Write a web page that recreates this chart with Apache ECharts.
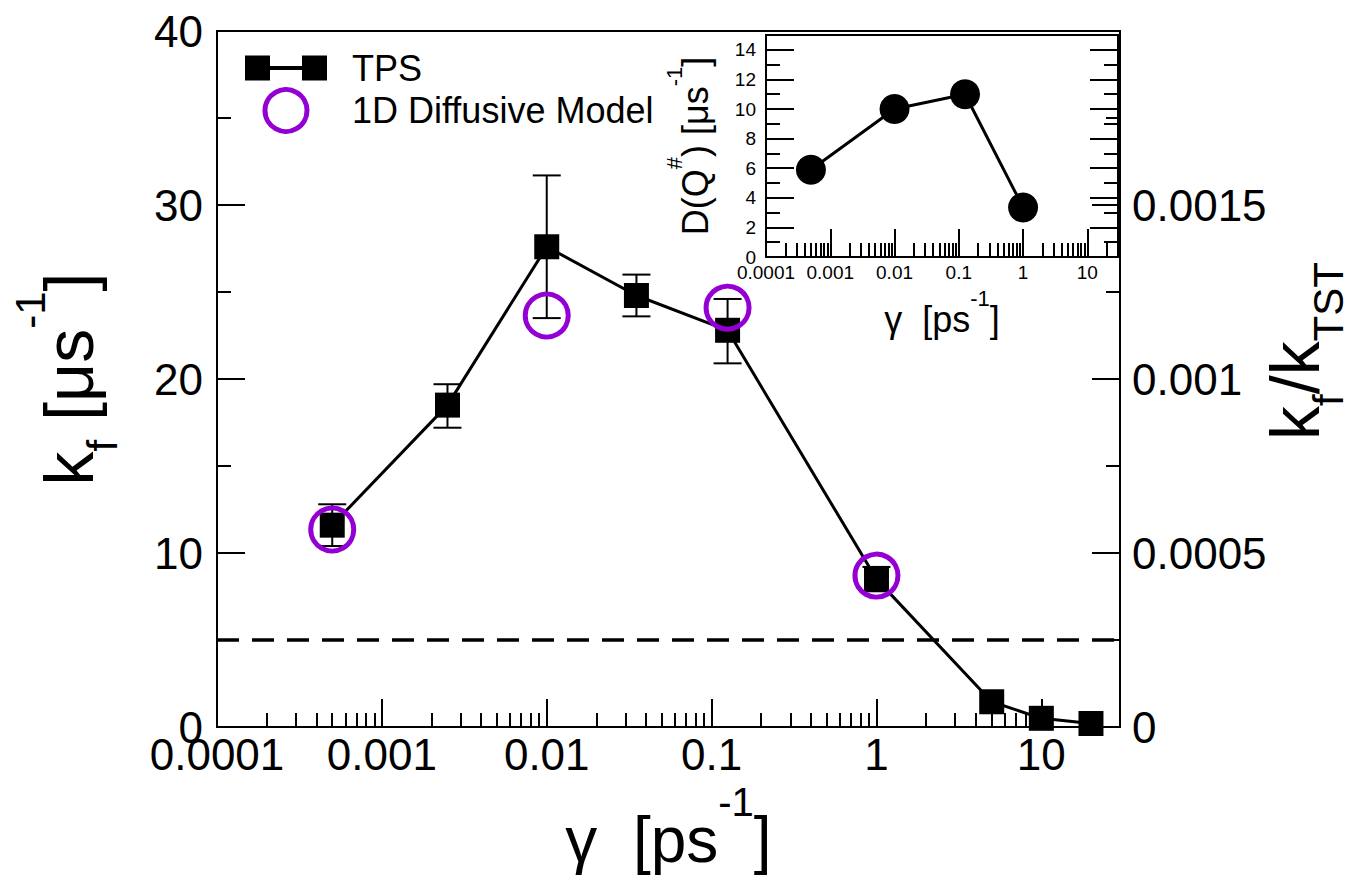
<!DOCTYPE html>
<html>
<head>
<meta charset="utf-8">
<script src="https://cdn.jsdelivr.net/npm/echarts@6/dist/echarts.min.js"></script>
<style>
html, body { margin: 0; padding: 0; background: #fff; }
#container { width: 1358px; height: 880px; }
</style>
</head>
<body>
<div id="container"></div>
<script>
var dom = document.getElementById("container");
var myChart = echarts.init(dom, null, { renderer: 'svg' });

// TPS rate constants (main panel)
var gammaTPS = [0.0005, 0.0025, 0.01, 0.035, 0.125, 1, 5, 10, 20];
var kfTPS = [11.6, 18.5, 27.6, 24.8, 22.8, 8.5, 1.45, 0.5, 0.2];
var kfErrLow = [10.4, 17.2, 23.5, 23.6, 20.9, 7.8, null, null, null];
var kfErrHigh = [12.8, 19.7, 31.7, 26.0, 24.6, 9.2, null, null, null];

// 1D diffusive model
var gammaModel = [0.0005, 0.01, 0.125, 1];
var kfModel = [11.35, 23.65, 24.1, 8.7];

// dashed reference level
var kfDashed = 5;

// inset: D(Q#)
var gammaInset = [0.0005, 0.01, 0.125, 1];
var diffInset = [5.9, 10.0, 11.0, 3.35];

// axis ticks
var xDecades = [0.0001, 0.001, 0.01, 0.1, 1, 10];
var xTickLabels = ['0.0001', '0.001', '0.01', '0.1', '1', '10'];
var xMax = 30;
var insetYTicks = [0, 2, 4, 6, 8, 10, 12, 14];
var insetYMinor = [1, 3, 5, 7, 9, 11, 13];

var font = '"Liberation Sans", Arial, sans-serif';
var purple = '#9400d3';

var lg = function (v) { return Math.log10(v); };
var majorX = xDecades.map(lg);
var minorX = [];
xDecades.forEach(function (d) {
	for (var k = 2; k <= 9; k++) {
		if (k * d <= xMax) minorX.push(lg(k * d));
	}
});
var xLabel = function (v) {
	return xTickLabels[Math.round(v) + 4];
};

var tpsData = gammaTPS.map(function (g, i) { return [lg(g), kfTPS[i]]; });
var errData = [];
gammaTPS.forEach(function (g, i) {
	if (kfErrLow[i] != null) errData.push([lg(g), kfErrLow[i], kfErrHigh[i]]);
});
var modelData = gammaModel.map(function (g, i) { return [lg(g), kfModel[i]]; });
var insetData = gammaInset.map(function (g, i) { return [lg(g), diffInset[i]]; });

function renderErrorBar(params, api) {
	var x = api.value(0);
	var top = api.coord([x, api.value(2)]);
	var bottom = api.coord([x, api.value(1)]);
	var half = 14;
	var style = { stroke: '#000', lineWidth: 2 };
	return {
		type: 'group',
		children: [
			{ type: 'line', shape: { x1: top[0], y1: top[1], x2: bottom[0], y2: bottom[1] }, style: style },
			{ type: 'line', shape: { x1: top[0] - half, y1: top[1], x2: top[0] + half, y2: top[1] }, style: style },
			{ type: 'line', shape: { x1: bottom[0] - half, y1: bottom[1], x2: bottom[0] + half, y2: bottom[1] }, style: style }
		]
	};
}

// rich text token: every piece hangs from the top of the line, pushed down by pt
function tok(size, pt) {
	return {
		fontSize: size, height: size, padding: [pt, 0, 0, 0],
		verticalAlign: 'top', fontFamily: font, color: '#000'
	};
}

var axisLine = { show: true, onZero: false, lineStyle: { color: '#000', width: 2 } };
var noLine = { show: false, onZero: false };
var tickStyle = { color: '#000', width: 2 };
var labelBig = { color: '#000', fontSize: 44, fontFamily: font };
var labelSmall = { color: '#000', fontSize: 19, fontFamily: font };

option = {
	animation: false,
	backgroundColor: '#fff',
	legend: {
		orient: 'vertical',
		left: 245,
		top: 50,
		itemWidth: 82,
		itemHeight: 42,
		itemGap: 1,
		padding: 0,
		textStyle: { color: '#000', fontSize: 36, fontFamily: font, padding: [0, 0, 0, 20] },
		data: [
			{ name: 'TPS', icon: 'path://M0,0h25v25h-25zM57,0h25v25h-25zM25,10.5h32v4h-32z',
				itemStyle: { color: '#000' } },
			{ name: '1D Diffusive Model', icon: 'circle',
				itemStyle: { color: 'rgba(0,0,0,0)', borderColor: purple, borderWidth: 5 } }
		]
	},
	grid: [{
		left: 217, right: 238, top: 31, bottom: 153,
		show: true, borderColor: '#000', borderWidth: 2,
		outerBoundsMode: 'none'
	}, {
		left: 766, right: 240, top: 35, bottom: 623,
		show: true, backgroundColor: '#fff', borderColor: '#000', borderWidth: 2,
		outerBoundsMode: 'none'
	}],
	xAxis: [{
		type: 'value', gridIndex: 0, min: -4, max: lg(xMax), interval: 1,
		position: 'bottom',
		axisLine: axisLine,
		splitLine: { show: false },
		axisTick: { show: true, inside: true, length: 28, customValues: majorX, lineStyle: tickStyle },
		axisLabel: Object.assign({ margin: 5, customValues: majorX, formatter: xLabel }, labelBig),
		name: '{n|γ}{n|  [ps}{s|-1}{n|]}',
		nameLocation: 'middle',
		nameGap: 55,
		nameMoveOverlap: false,
		nameTextStyle: { rich: { n: tok(64, 26), s: tok(40, 0) } }
	}, {
		type: 'value', gridIndex: 0, min: -4, max: lg(xMax), interval: 1,
		position: 'bottom',
		axisLine: noLine,
		splitLine: { show: false },
		axisTick: { show: true, inside: true, length: 14, customValues: minorX, lineStyle: tickStyle },
		axisLabel: { show: false }
	}, {
		type: 'value', gridIndex: 1, min: -4, max: lg(xMax), interval: 1,
		position: 'bottom',
		axisLine: axisLine,
		splitLine: { show: false },
		axisTick: { show: true, inside: true, length: 28, customValues: majorX, lineStyle: tickStyle },
		axisLabel: Object.assign({ margin: 6, customValues: majorX, formatter: xLabel }, labelSmall),
		name: '{n|γ}{n|  [ps}{s|-1}{n|]}',
		nameLocation: 'middle',
		nameGap: 30,
		nameMoveOverlap: false,
		nameTextStyle: { rich: { n: tok(36, 14), s: tok(22, 0) } }
	}, {
		type: 'value', gridIndex: 1, min: -4, max: lg(xMax), interval: 1,
		position: 'bottom',
		axisLine: noLine,
		splitLine: { show: false },
		axisTick: { show: true, inside: true, length: 14, customValues: minorX, lineStyle: tickStyle },
		axisLabel: { show: false }
	}],
	yAxis: [{
		type: 'value', gridIndex: 0, min: 0, max: 40, interval: 10,
		position: 'left',
		axisLine: axisLine,
		splitLine: { show: false },
		axisTick: { show: true, inside: true, length: 28, lineStyle: tickStyle },
		minorTick: { show: true, splitNumber: 2, length: 14, lineStyle: tickStyle },
		axisLabel: Object.assign({ margin: 14 }, labelBig),
		name: '{n|k}{b|f}{n| [μs}{s|-1}{n|]}',
		nameLocation: 'middle',
		nameRotate: 90,
		nameGap: 94,
		nameMoveOverlap: false,
		nameTextStyle: { rich: { n: tok(68, 26), s: tok(42, 0), b: tok(42, 72) } }
	}, {
		type: 'value', gridIndex: 0, min: 0, max: 0.002, interval: 0.0005,
		position: 'right',
		axisLine: axisLine,
		splitLine: { show: false },
		axisTick: { show: true, inside: true, length: 28, lineStyle: tickStyle },
		minorTick: { show: true, splitNumber: 2, length: 14, lineStyle: tickStyle },
		axisLabel: Object.assign({
			margin: 12, showMaxLabel: false,
			formatter: function (v) { return String(+v.toFixed(4)); }
		}, labelBig),
		name: '{n|k}{b|f}{n|/k}{b|TST}',
		nameLocation: 'middle',
		nameRotate: 90,
		nameGap: 141,
		nameMoveOverlap: false,
		nameTextStyle: { padding: [0, 0, 0, 56], rich: { n: tok(68, 0), b: tok(42, 46) } }
	}, {
		type: 'value', gridIndex: 1, min: 0, max: 15,
		position: 'left',
		axisLine: axisLine,
		splitLine: { show: false },
		axisTick: { show: true, inside: true, length: 28, customValues: insetYTicks, lineStyle: tickStyle },
		axisLabel: Object.assign({ margin: 10, customValues: insetYTicks }, labelSmall),
		name: '{n|D(Q}{s|#}{n|) [μs}{s|-1}{n|]}',
		nameLocation: 'middle',
		nameRotate: 90,
		nameGap: 53,
		nameMoveOverlap: false,
		nameTextStyle: { rich: { n: tok(36, 14), s: tok(22, 0) } }
	}, {
		type: 'value', gridIndex: 1, min: 0, max: 15,
		position: 'left',
		axisLine: noLine,
		splitLine: { show: false },
		axisTick: { show: true, inside: true, length: 14, customValues: insetYMinor, lineStyle: tickStyle },
		axisLabel: { show: false }
	}, {
		type: 'value', gridIndex: 1, min: 0, max: 15,
		position: 'right',
		axisLine: noLine,
		splitLine: { show: false },
		axisTick: { show: true, inside: true, length: 28, customValues: insetYTicks, lineStyle: tickStyle },
		axisLabel: { show: false }
	}, {
		type: 'value', gridIndex: 1, min: 0, max: 15,
		position: 'right',
		axisLine: noLine,
		splitLine: { show: false },
		axisTick: { show: true, inside: true, length: 14, customValues: insetYMinor, lineStyle: tickStyle },
		axisLabel: { show: false }
	}],
	series: [{
		name: 'TPS errors',
		type: 'custom',
		xAxisIndex: 0,
		yAxisIndex: 0,
		renderItem: renderErrorBar,
		data: errData,
		z: 2,
		silent: true
	}, {
		name: 'TPS',
		type: 'line',
		xAxisIndex: 0,
		yAxisIndex: 0,
		data: tpsData,
		symbol: 'rect',
		symbolSize: 25,
		itemStyle: { color: '#000' },
		lineStyle: { color: '#000', width: 3 },
		z: 3,
		markLine: {
			silent: true,
			symbol: 'none',
			label: { show: false },
			lineStyle: { color: '#000', width: 3.5, type: [22, 13] },
			data: [{ yAxis: kfDashed }]
		}
	}, {
		name: '1D Diffusive Model',
		type: 'scatter',
		xAxisIndex: 0,
		yAxisIndex: 0,
		data: modelData,
		symbol: 'circle',
		symbolSize: 43,
		itemStyle: { color: 'rgba(0,0,0,0)', borderColor: purple, borderWidth: 5, opacity: 1 },
		z: 4
	}, {
		name: 'D(Q#)',
		type: 'line',
		xAxisIndex: 2,
		yAxisIndex: 2,
		data: insetData,
		symbol: 'circle',
		symbolSize: 30,
		itemStyle: { color: '#000' },
		lineStyle: { color: '#000', width: 3 },
		z: 5
	}]
};

if (option && typeof option === "object") {
	myChart.setOption(option, true);
}
</script>
</body>
</html>
